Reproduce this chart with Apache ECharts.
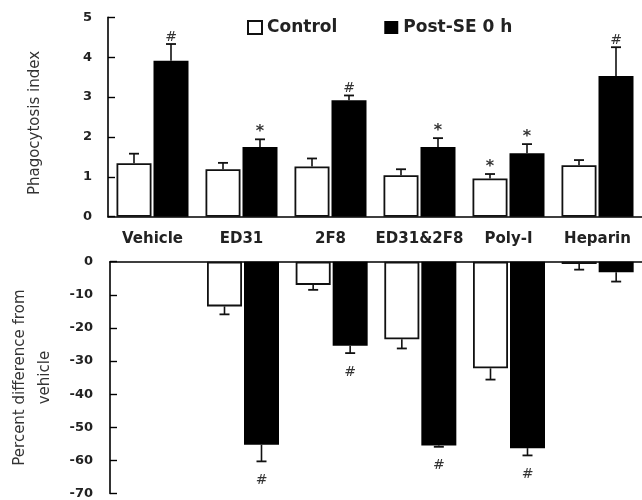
<!DOCTYPE html>
<html>
<head>
<meta charset="utf-8">
<script src="https://cdn.jsdelivr.net/npm/echarts@6/dist/echarts.min.js"></script>
<style>html,body{margin:0;padding:0;background:#fff;}#c{width:642px;height:500px;}</style>
</head>
<body>
<div id="c"></div>
<script>
const categories = ['Vehicle', 'ED31', '2F8', 'ED31&2F8', 'Poly-I', 'Heparin'];
const seriesNames = ['Control', 'Post-SE 0 h'];
// Top panel: phagocytosis index (mean, SEM)
const topControl = [1.34, 1.19, 1.26, 1.04, 0.96, 1.29];
const topControlErr = [0.24, 0.16, 0.20, 0.15, 0.11, 0.13];
const topPost = [3.91, 1.75, 2.92, 1.75, 1.59, 3.53];
const topPostErr = [0.42, 0.19, 0.12, 0.22, 0.23, 0.72];
const topControlMarks = ['', '', '', '', '*', ''];
const topPostMarks = ['#', '*', '#', '*', '*', '#'];
// Bottom panel: percent difference from vehicle (vehicle itself has no bar)
const bottomControl = [null, -13.5, -7.0, -23.4, -32.2, -0.7];
const bottomControlErr = [0, 2.4, 1.5, 2.8, 3.4, 1.7];
const bottomPost = [null, -55.3, -25.4, -55.5, -56.3, -3.2];
const bottomPostErr = [0, 5.0, 2.2, 0.4, 2.2, 2.8];
const bottomControlMarks = ['', '', '', '', '', ''];
const bottomPostMarks = ['', '#', '#', '#', '#', ''];
const topTicks = [0, 5, 1];
const bottomTicks = [-70, 0, 10];

const BAR_W = 35, BAR_GAP = 2;
const FONT = '"DejaVu Sans", sans-serif';

function errSeries(xi, yi, vals, errs, marks, side, dir, name) {
  const data = vals.map((v, i) => [i, v == null ? 0 : v, errs[i], marks[i]]);
  return {
    type: 'custom', name: name + ' err', xAxisIndex: xi, yAxisIndex: yi, z: 5, silent: true,
    data: data,
    renderItem: function (params, api) {
      const i = api.value(0), v = api.value(1), e = api.value(2);
      const mark = data[params.dataIndex][3];
      const base = api.coord([i, v]);
      const x = base[0] + side * (BAR_W / 2 + BAR_GAP / 2);
      const end = api.coord([i, v + dir * e]);
      const children = [];
      if (e > 0) {
        children.push({ type: 'line', shape: { x1: x, y1: base[1], x2: x, y2: end[1] }, style: { stroke: '#111', lineWidth: 1.6 } });
        children.push({ type: 'line', shape: { x1: x - 5, y1: end[1], x2: x + 5, y2: end[1] }, style: { stroke: '#111', lineWidth: 1.8 } });
      }
      if (mark) {
        const star = mark === '*';
        const off = dir > 0 ? (star ? -7 : -7) : 19;
        children.push({ type: 'text', style: { text: mark, x: x, y: end[1] + off, align: 'center', verticalAlign: 'middle',
          font: (star ? 'bold 16px ' : 'italic 14px ') + FONT, fill: '#333' } });
      }
      return { type: 'group', children: children };
    }
  };
}

const labelStyle = { fontFamily: FONT, fontWeight: 'bold', color: '#222' };
const chart = echarts.init(document.getElementById('c'));
chart.setOption({
  animation: false,
  backgroundColor: '#fff',
  legend: {
    data: seriesNames.map(n => ({ name: n, icon: 'rect' })), left: 247, top: 19, padding: 0,
    itemWidth: 14, itemHeight: 13, itemGap: 47,
    textStyle: { fontFamily: FONT, fontWeight: 'bold', fontSize: 17, color: '#222' },
    selectedMode: false
  },
  grid: [
    { left: 108, top: 17.3, width: 543, height: 199.4 },
    { left: 108, top: 261.7, width: 543, height: 234 }
  ],
  xAxis: [
    { type: 'category', gridIndex: 0, data: categories,
      axisLine: { lineStyle: { color: '#000', width: 1.6 } }, axisTick: { show: false },
      axisLabel: Object.assign({ fontSize: 15, margin: 15, interval: 0 }, labelStyle) },
    { type: 'category', gridIndex: 1, data: categories, position: 'top',
      axisLine: { lineStyle: { color: '#000', width: 1.6 } }, axisTick: { show: false }, axisLabel: { show: false } }
  ],
  yAxis: [
    { type: 'value', gridIndex: 0, min: topTicks[0], max: topTicks[1], interval: topTicks[2],
      name: 'Phagocytosis index', nameLocation: 'middle', nameGap: 65,
      nameTextStyle: { fontFamily: FONT, fontSize: 15, color: '#333', padding: [0, 12, 0, 0] },
      axisLine: { show: true, lineStyle: { color: '#000', width: 1.6 } },
      axisTick: { show: true, inside: true, length: 7, lineStyle: { color: '#000', width: 1.4 } },
      splitLine: { show: false },
      axisLabel: Object.assign({ fontSize: 13, margin: 16 }, labelStyle) },
    { type: 'value', gridIndex: 1, min: bottomTicks[0], max: bottomTicks[1], interval: bottomTicks[2],
      name: 'Percent difference from\nvehicle', nameLocation: 'middle', nameGap: 52,
      nameTextStyle: { fontFamily: FONT, fontSize: 15, color: '#333', lineHeight: 25 },
      axisLine: { show: true, lineStyle: { color: '#000', width: 1.6 } },
      axisTick: { show: true, inside: true, length: 7, lineStyle: { color: '#000', width: 1.4 } },
      splitLine: { show: false },
      axisLabel: Object.assign({ fontSize: 13, margin: 17 }, labelStyle) }
  ],
  series: [
    { type: 'bar', name: seriesNames[0], xAxisIndex: 0, yAxisIndex: 0, data: topControl, barWidth: BAR_W, barGap: (BAR_GAP / BAR_W * 100) + '%',
      itemStyle: { color: '#fff', borderColor: '#111', borderWidth: 1.8 } },
    { type: 'bar', name: seriesNames[1], xAxisIndex: 0, yAxisIndex: 0, data: topPost, barWidth: BAR_W,
      itemStyle: { color: '#000', borderColor: '#000', borderWidth: 0 } },
    { type: 'bar', name: seriesNames[0], xAxisIndex: 1, yAxisIndex: 1, data: bottomControl, barWidth: BAR_W, barGap: (BAR_GAP / BAR_W * 100) + '%',
      itemStyle: { color: '#fff', borderColor: '#111', borderWidth: 1.8 } },
    { type: 'bar', name: seriesNames[1], xAxisIndex: 1, yAxisIndex: 1, data: bottomPost, barWidth: BAR_W,
      itemStyle: { color: '#000', borderColor: '#000', borderWidth: 0 } },
    errSeries(0, 0, topControl, topControlErr, topControlMarks, -1, 1, 'c1'),
    errSeries(0, 0, topPost, topPostErr, topPostMarks, 1, 1, 'p1'),
    errSeries(1, 1, bottomControl, bottomControlErr, bottomControlMarks, -1, -1, 'c2'),
    errSeries(1, 1, bottomPost, bottomPostErr, bottomPostMarks, 1, -1, 'p2')
  ]
});
</script>
</body>
</html>
